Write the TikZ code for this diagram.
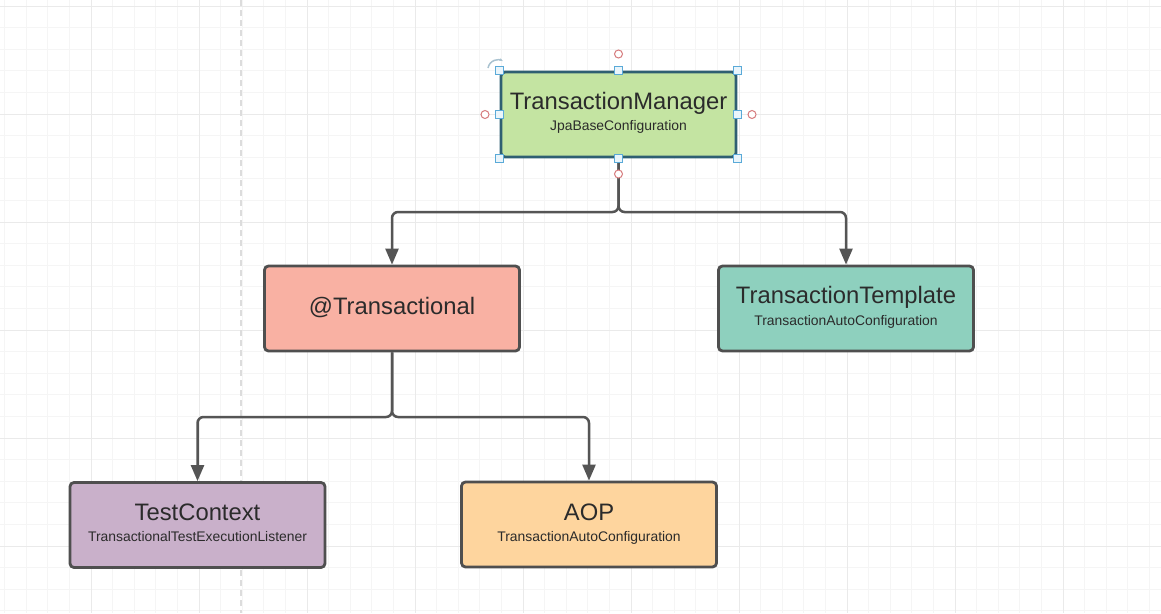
\documentclass[tikz,border=0pt]{standalone}
\usepackage{fontspec}
\setmainfont{Liberation Sans}
\usetikzlibrary{arrows.meta}
\definecolor{gridminor}{HTML}{F5F5F5}
\definecolor{gridmajor}{HTML}{EAEAEA}
\definecolor{dashc}{HTML}{DCDCDC}
\definecolor{tmfill}{HTML}{C4E4A2}
\definecolor{tmline}{HTML}{2F5F72}
\definecolor{trfill}{HTML}{F9B1A3}
\definecolor{ttfill}{HTML}{8ED0BE}
\definecolor{tcfill}{HTML}{C9B0CA}
\definecolor{aopfill}{HTML}{FED59E}
\definecolor{boxline}{HTML}{4F4F4F}
\definecolor{linec}{HTML}{555555}
\definecolor{txt}{HTML}{2B2B2B}
\definecolor{handleb}{HTML}{5AAAD8}
\definecolor{handlef}{HTML}{EAF5FB}
\definecolor{handler}{HTML}{D67B7D}
\definecolor{rotc}{HTML}{A9C2D0}
\tikzset{
  box/.style={draw=boxline, line width=2.8pt, rounded corners=4pt,
    minimum width=255pt, minimum height=85pt, inner sep=0pt},
  ttl/.style={font=\fontsize{23.8}{24}\selectfont, text=txt, anchor=base, inner sep=0pt},
  subt/.style={font=\fontsize{13.9}{14}\selectfont, text=txt, anchor=base, inner sep=0pt},
  conn/.style={draw=linec, line width=2.5pt, rounded corners=6pt,
    -{Triangle[length=16pt,width=13pt]}},
  sqhandle/.style={draw=handleb, fill=handlef, line width=1.1pt, minimum size=8pt,
    inner sep=0pt, rectangle},
  cirhandle/.style={draw=handler, fill=white, line width=1pt, circle, minimum size=8pt,
    inner sep=0pt},
}
\begin{document}
\begin{tikzpicture}[x=1pt,y=-1pt]
\useasboundingbox (0,0) rectangle (1161,613);
\fill[white] (0,0) rectangle (1161,613);
% grid
\foreach \i in {0,...,54} {
  \draw[gridminor, line width=0.9pt] ({4.6+21.6*\i},0) -- ({4.6+21.6*\i},613);
}
\foreach \i in {0,...,28} {
  \draw[gridminor, line width=0.9pt] (0,{6+21.6*\i}) -- (1161,{6+21.6*\i});
}
\foreach \i in {0,...,10} {
  \draw[gridmajor, line width=1pt] ({91+108*\i},0) -- ({91+108*\i},613);
}
\foreach \i in {0,...,5} {
  \draw[gridmajor, line width=1pt] (0,{6+108*\i}) -- (1161,{6+108*\i});
}
\draw[dashc, line width=1.2pt, dash pattern=on 6pt off 4pt] (241,0) -- (241,613);

% boxes
\node[box, draw=tmline, fill=tmfill, minimum width=235pt, minimum height=85pt] (tm) at (618.5,114.5) {};
\node[box, fill=trfill] (tr) at (392,308.5) {};
\node[box, fill=ttfill] (tt) at (846,308.5) {};
\node[box, fill=tcfill] (tc) at (197.5,525) {};
\node[box, fill=aopfill] (aop) at (589,524.5) {};

% texts
\node[ttl] (tmT) at (618.5,109.3) {TransactionManager};
\node[subt] (tmS) at (618.5,130.7) {JpaBaseConfiguration};
\node[ttl] (trT) at (392,314.5) {@Transactional};
\node[ttl] (ttT) at (846,303.3) {TransactionTemplate};
\node[subt] (ttS) at (846,325) {TransactionAutoConfiguration};
\node[ttl] (tcT) at (197.5,520.5) {TestContext};
\node[subt] (tcS) at (197.5,541.7) {TransactionalTestExecutionListener};
\node[ttl] (aopT) at (589,520) {AOP};
\node[subt] (aopS) at (589,541.7) {TransactionAutoConfiguration};

% connectors
\coordinate (j1) at (618.5,212);
\coordinate (j2) at (392,417);
\draw[conn] (tm.south) -- (j1) -| (tr.north);
\draw[conn] (tm.south) -- (j1) -| (tt.north);
\draw[conn] (tr.south) -- (j2) -| (tc.north);
\draw[conn] (tr.south) -- (j2) -| (aop.north);

% selection handles
\foreach \p/\n in {north west/h1, north/h2, north east/h3, west/h4, east/h5, south west/h6, south/h7, south east/h8} {
  \node[sqhandle] (\n) at (tm.\p) {};
}
\node[cirhandle] (c1) at (618.5,54) {};
\node[cirhandle] (c2) at (485,114.5) {};
\node[cirhandle] (c3) at (752,114.5) {};
\node[cirhandle] (c4) at (618.5,174) {};
\draw[rotc, line width=1.5pt, -{Stealth[length=3.5pt]}] (488,68) arc[start angle=190, end angle=300, radius=10];
\end{tikzpicture}
\end{document}
